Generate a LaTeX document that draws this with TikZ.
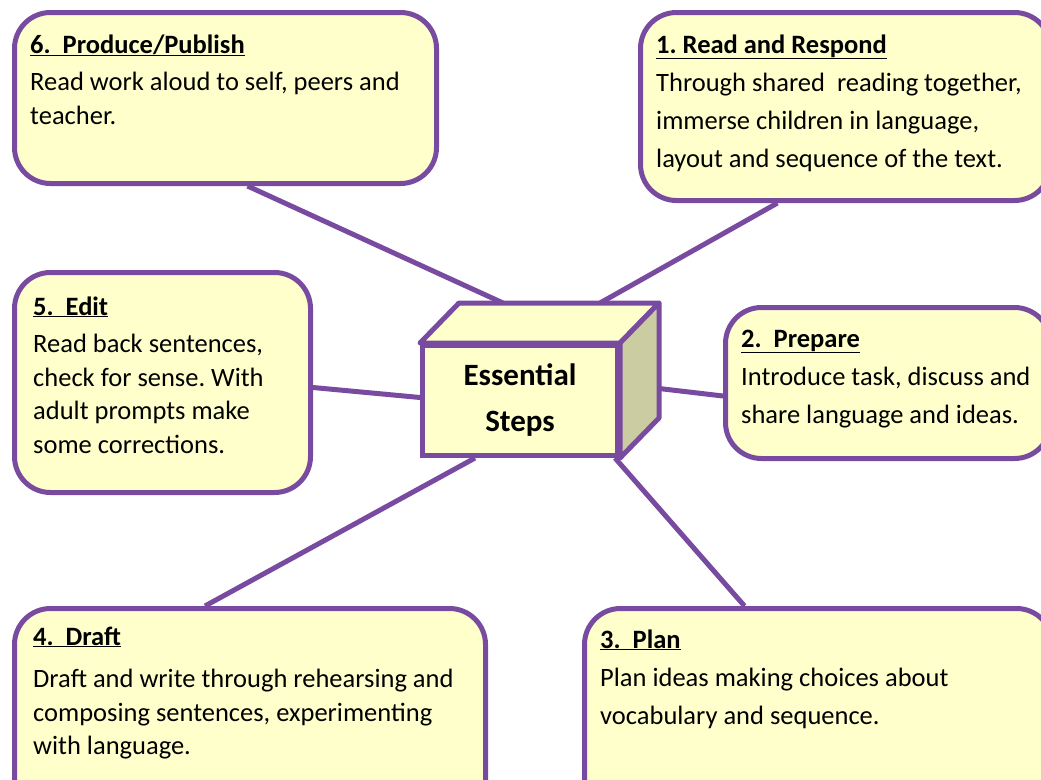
\documentclass[tikz,border=0pt]{standalone}
\usepackage{fontspec}
\setmainfont{Carlito}
\usepackage{tikz}
\usetikzlibrary{positioning}
\usetikzlibrary{calc}
\usetikzlibrary{backgrounds}
\frenchspacing
\definecolor{stepfill}{RGB}{255,255,204}
\definecolor{stepline}{RGB}{120,75,160}
\definecolor{sideface}{RGB}{204,204,163}
\tikzstyle{stepbox} = [rectangle, draw=stepline, fill=stepfill, line width=5pt, rounded corners=36pt, anchor=north west, inner sep=0pt]
\tikzstyle{steptext} = [anchor=base west, inner sep=0pt, align=left]
\tikzstyle{link} = [draw=stepline, line width=5pt]
\newcommand{\steptitle}[1]{\underline{\textbf{#1}}}
\newcommand{\tightlines}{\fontsize{26.5}{33.5}\selectfont}
\newcommand{\widelines}{\fontsize{26.5}{38}\selectfont}

\begin{document}
\begin{tikzpicture}[x=1pt, y=-1pt]
	\useasboundingbox (0,0) rectangle (1041,779);

	\node[stepbox, minimum width=422pt, minimum height=171pt] at (12,10) (Step-6) {};
	\node[stepbox, minimum width=410pt, minimum height=188pt] at (638,10) (Step-1) {};
	\node[stepbox, minimum width=296pt, minimum height=220pt] at (12,270) (Step-5) {};
	\node[stepbox, minimum width=325pt, minimum height=151pt] at (723,305) (Step-2) {};
	\node[stepbox, minimum width=471pt, minimum height=214pt] at (12,606) (Step-4) {};
	\node[stepbox, minimum width=468pt, minimum height=214pt] at (582,606) (Step-3) {};

	% texts hang on the baseline of their last line
	\node[steptext, font=\tightlines] at([xshift=18pt, yshift=-114pt]Step-6.north west)(Text-6){\steptitle{6.~ Produce/Publish}\\[4pt]Read work aloud to self, peers and\\teacher.};
	\node[steptext, font=\widelines] at([xshift=18pt, yshift=-157pt]Step-1.north west)(Text-1){\steptitle{1. Read and Respond}\\Through shared~ reading together,\\immerse children in language,\\layout and sequence of the text.};
	\node[steptext, font=\tightlines] at([xshift=21pt, yshift=-183pt]Step-5.north west)(Text-5){\steptitle{5.~ Edit}\\[4pt]Read back sentences,\\check for sense. With\\adult prompts make\\some corrections.};
	\node[steptext, font=\widelines] at([xshift=18pt, yshift=-118pt]Step-2.north west)(Text-2){\steptitle{2.~ Prepare}\\Introduce task, discuss and\\share language and ideas.};
	\node[steptext, font=\tightlines] at([xshift=21pt, yshift=-148.5pt]Step-4.north west)(Text-4){\steptitle{4.~ Draft}\\[9pt]Draft and write through rehearsing and\\composing sentences, experimenting\\with language.};
	\node[steptext, font=\widelines] at([xshift=18pt, yshift=-118pt]Step-3.north west)(Text-3){\steptitle{3.~ Plan}\\Plan ideas making choices about\\vocabulary and sequence.};

	% the box in the middle
	\node[rectangle, draw=stepline, fill=stepfill, line width=5pt, minimum width=195pt, minimum height=110pt, align=center, font=\fontsize{31}{46}\selectfont\bfseries] at (520,400.5) (Core) {Essential\\Steps};
	\draw[stepline, fill=stepfill, line width=5pt, line join=round] (Core.north west) -- ([xshift=39pt, yshift=40pt]Core.north west) -- ([xshift=39pt, yshift=40pt]Core.north east) -- (Core.north east) -- cycle;
	\draw[stepline, fill=sideface, line width=5pt, line join=round] (Core.north east) -- ([xshift=39pt, yshift=40pt]Core.north east) -- ([xshift=39pt, yshift=40pt]Core.south east) -- (Core.south east) -- cycle;

	\begin{pgfonlayer}{background}
	\draw[link] ([xshift=22pt]Step-6.south) -- ([xshift=-17pt, yshift=40pt]Core.north);
	\draw[link] ([xshift=-68pt]Step-1.south) -- ([xshift=80pt, yshift=40pt]Core.north);
	\draw[link] ([yshift=-5pt]Step-5.east) -- ([yshift=3pt]Core.west);
	\draw[link] ([yshift=-13pt]Step-2.west) -- ([xshift=39pt, yshift=12pt]Core.east);
	\draw[link] ([xshift=-45pt]Step-4.north) -- ([xshift=-45pt]Core.south);
	\draw[link] ([xshift=-74pt]Step-3.north) -- ([xshift=95pt]Core.south);
	\end{pgfonlayer}
\end{tikzpicture}
\end{document}
